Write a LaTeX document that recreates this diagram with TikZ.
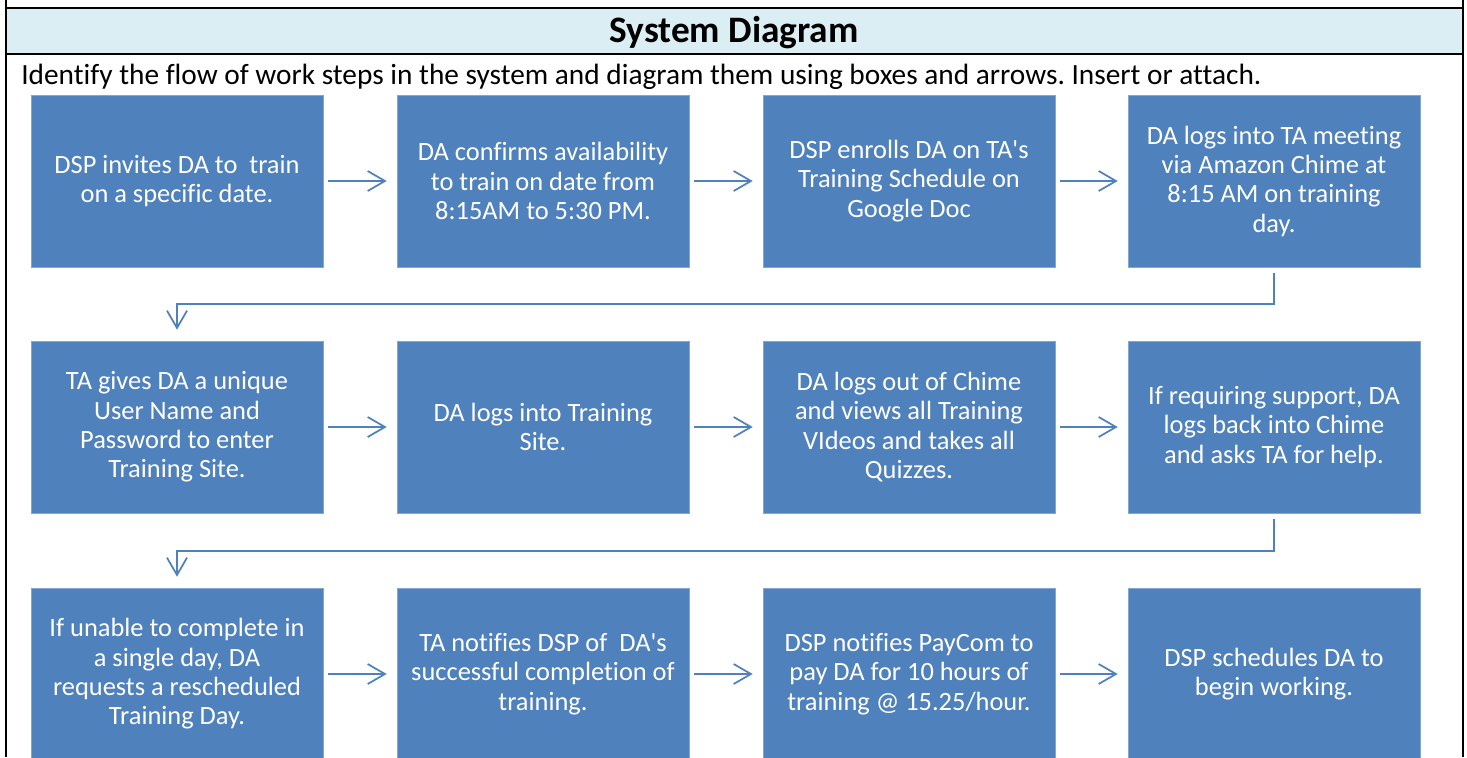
\documentclass[tikz,border=0pt]{standalone}
\usepackage{fontspec}
\setmainfont{Carlito}[Ligatures=NoCommon]
\usetikzlibrary{arrows.meta}
\definecolor{boxblue}{HTML}{4F81BD}
\definecolor{hdrblue}{HTML}{DAEEF3}
\frenchspacing
\tikzset{
  stepbox/.style={fill=boxblue, draw=boxblue!70!white, line width=0.4pt, minimum width=219pt, minimum height=129pt, text=white, align=center, font=\fontsize{19.8}{22}\selectfont, inner sep=0pt},
  flow/.style={draw=boxblue, line width=1.3pt, -{Straight Barb[length=13pt,width=15pt,line width=1.3pt]}},
  frame/.style={line width=1.6pt, black}
}
\begin{document}
\begin{tikzpicture}[x=0.75pt,y=-0.75pt]
\useasboundingbox (0,0) rectangle (1467,757);
\begin{scope}
\clip (0,0) rectangle (1467,757);
\fill[hdrblue] (6,8) rectangle (1463,54);
\node[font=\fontsize{28}{32}\selectfont\bfseries] (title) at (734,33) {System Diagram};
\node[anchor=west, font=\fontsize{22}{26}\selectfont, inner sep=0pt] (intro) at (21,77) {Identify the flow of work steps in the system and diagram them using boxes and arrows. Insert or attach.};

\node[stepbox] (b1) at (177,181) {DSP invites DA to\ \ train\\on a specific date.};
\node[stepbox] (b2) at (543,181) {DA confirms availability\\to train on date from\\8:15AM to 5:30 PM.};
\node[stepbox] (b3) at (909,181) {DSP enrolls DA on TA\textquotesingle s\\Training Schedule on\\Google Doc};
\node[stepbox] (b4) at (1274,181) {DA logs into TA meeting\\via Amazon Chime at\\8:15 AM on training\\day.};

\node[stepbox] (b5) at (177,427) {TA gives DA a unique\\User Name and\\Password to enter\\Training Site.};
\node[stepbox] (b6) at (543,427) {DA logs into Training\\Site.};
\node[stepbox] (b7) at (909,427) {DA logs out of Chime\\and views all Training\\VIdeos and takes all\\Quizzes.};
\node[stepbox] (b8) at (1274,427) {If requiring support, DA\\logs back into Chime\\and asks TA for help.};

\node[stepbox] (b9) at (177,674) {If unable to complete in\\a single day, DA\\requests a rescheduled\\Training Day.};
\node[stepbox] (b10) at (543,674) {TA notifies DSP of\ \ DA\textquotesingle s\\successful completion of\\training.};
\node[stepbox] (b11) at (909,674) {DSP notifies PayCom to\\pay DA for 10 hours of\\training @ 15.25/hour.};
\node[stepbox] (b12) at (1274,674) {DSP schedules DA to\\begin working.};

\foreach \a/\b in {b1/b2,b2/b3,b3/b4,b5/b6,b6/b7,b7/b8,b9/b10,b10/b11,b11/b12}
  \draw[flow, shorten <=3.75pt, shorten >=7.5pt] (\a.east) -- (\b.west);

\coordinate (c1) at (1274,304);
\coordinate (c2) at (1274,551);
\draw[flow, shorten <=4.5pt, shorten >=8.25pt] (b4.south) -- (c1) -| (b5.north);
\draw[flow, shorten <=4.5pt, shorten >=8.25pt] (b8.south) -- (c2) -| (b9.north);

\draw[frame] (6,8) -- (1463,8);
\draw[frame] (6,54) -- (1463,54);
\draw[frame] (6,0) -- (6,757);
\draw[frame] (1463,0) -- (1463,757);
\end{scope}
\end{tikzpicture}
\end{document}
